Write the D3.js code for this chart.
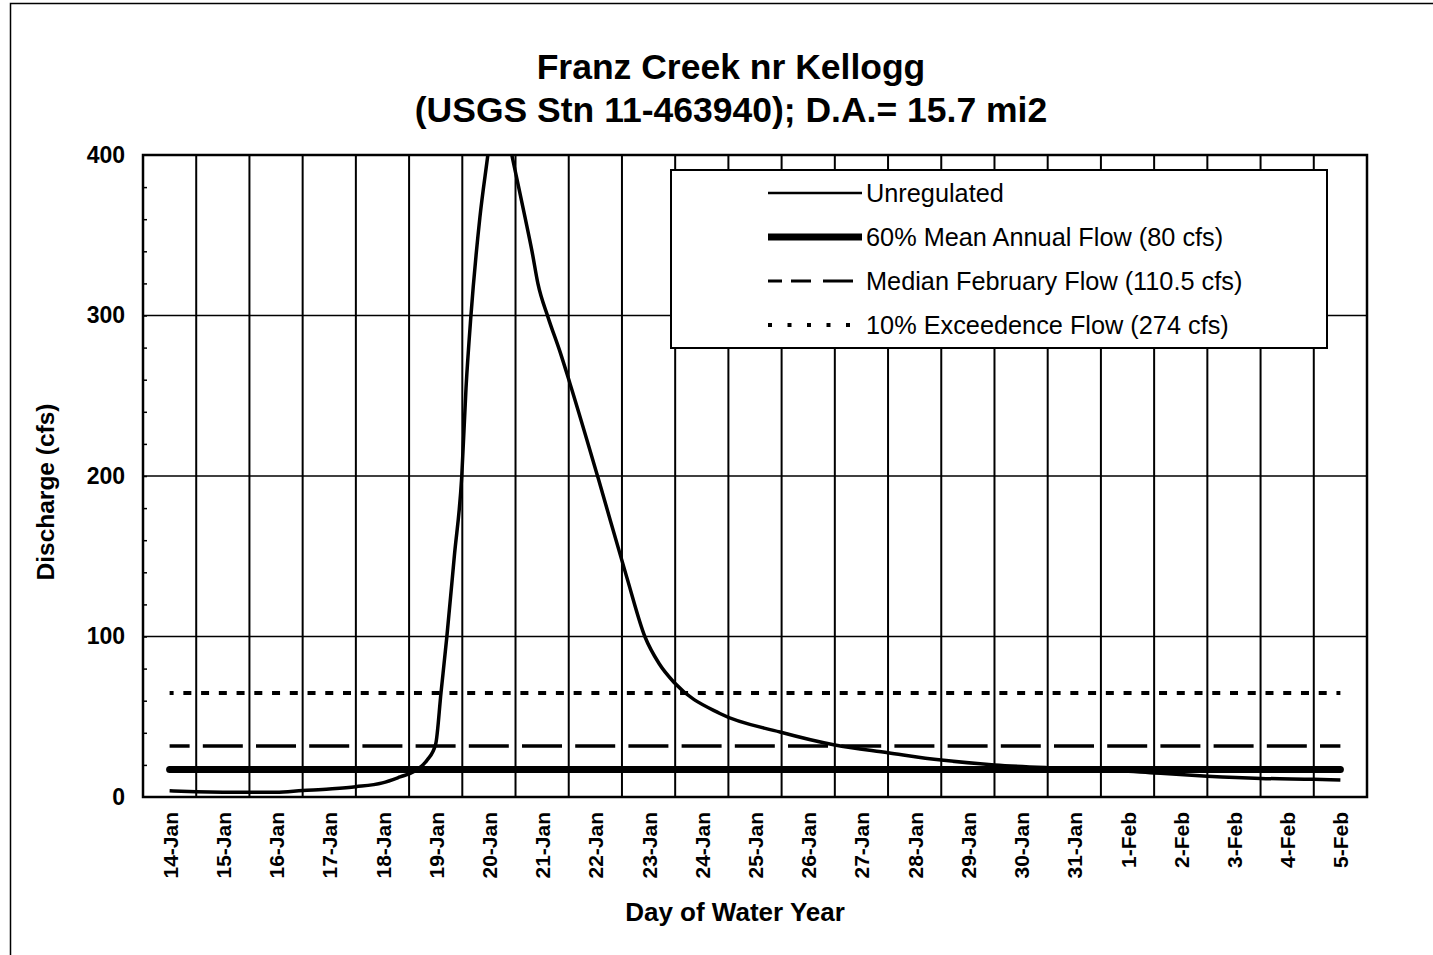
<!DOCTYPE html>
<html>
<head>
<meta charset="utf-8">
<script src="https://cdn.jsdelivr.net/npm/d3@7/dist/d3.min.js"></script>
<style>
body { margin: 0; background: #fff; }
text { font-family: "Liberation Sans", Arial, sans-serif; fill: #000; }
</style>
</head>
<body>
<script>
//category labels along the x axis
var dates = ["14-Jan", "15-Jan", "16-Jan", "17-Jan", "18-Jan", "19-Jan", "20-Jan", "21-Jan",
    "22-Jan", "23-Jan", "24-Jan", "25-Jan", "26-Jan", "27-Jan", "28-Jan", "29-Jan", "30-Jan",
    "31-Jan", "1-Feb", "2-Feb", "3-Feb", "4-Feb", "5-Feb"];

//unregulated hydrograph: day offset from 14-Jan and discharge (cfs)
var flowDay = [0, 0.5, 1, 1.5, 2, 2.5, 3, 3.5, 4, 4.33, 4.6, 4.84, 5.0, 5.1, 5.21, 5.35, 5.49,
    5.57, 5.66, 5.83, 5.98, 6.15, 6.43, 6.68, 6.81, 6.92, 7.11, 7.34, 7.52, 8.05, 8.59, 8.93,
    9.2, 9.49, 10.34, 11.47, 12.5, 13.5, 14.5, 15.5, 16.5, 17.5, 18.5, 19.5, 20.5, 21.5, 22];
var flowCfs = [3.9, 3.3, 3.0, 2.9, 2.9, 4.0, 5.0, 6.4, 8.8, 12.5, 16, 23, 33, 65, 100, 150, 200,
    255, 299, 361, 400, 445, 400, 361, 340, 320, 299, 277, 258, 199, 137, 100,
    83, 71, 52, 40.5, 32.4, 27.6, 23, 20, 18.3, 17.2, 15, 13, 11.6, 11, 10.6];

//flat reference flows, as drawn on the chart
var refNames = ["60% Mean Annual Flow (80 cfs)", "Median February Flow (110.5 cfs)", "10% Exceedence Flow (274 cfs)"];
var refCfs = [17.2, 31.8, 64.8];

//y axis ticks
var yTicks = [0, 100, 200, 300, 400];

window.onload = setChart();

function setChart(){

    var width = 1433,
        height = 955;

    //plot area edges
    var left = 143, right = 1367, top = 155, bottom = 797;

    var svg = d3.select("body")
        .append("svg")
        .attr("width", width)
        .attr("height", height);

    //page frame (left and top edge of the scanned figure)
    svg.append("path")
        .attr("d", "M10.5,955 V3.5 H1433")
        .attr("fill", "none")
        .attr("stroke", "#000")
        .attr("stroke-width", 1.5);

    var x = d3.scaleLinear()
        .domain([-0.5, dates.length - 0.5])
        .range([left, right]);

    var y = d3.scaleLinear()
        .domain([0, 400])
        .range([bottom, top]);

    //title
    var title = svg.append("text")
        .attr("text-anchor", "middle")
        .style("font-weight", "bold")
        .style("font-size", "35.5px");
    title.append("tspan").attr("x", 731).attr("y", 79).text("Franz Creek nr Kellogg");
    title.append("tspan").attr("x", 731).attr("y", 122).text("(USGS Stn 11-463940); D.A.= 15.7 mi2");

    //vertical grid lines between categories
    svg.selectAll(".vgrid")
        .data(d3.range(1, dates.length))
        .enter()
        .append("line")
        .attr("class", "vgrid")
        .attr("x1", function(d){ return x(d - 0.5); })
        .attr("x2", function(d){ return x(d - 0.5); })
        .attr("y1", top)
        .attr("y2", bottom)
        .attr("stroke", "#000")
        .attr("stroke-width", 2);

    //horizontal grid lines
    svg.selectAll(".hgrid")
        .data(yTicks.slice(1, -1))
        .enter()
        .append("line")
        .attr("class", "hgrid")
        .attr("x1", left)
        .attr("x2", right)
        .attr("y1", function(d){ return y(d); })
        .attr("y2", function(d){ return y(d); })
        .attr("stroke", "#000")
        .attr("stroke-width", 1.5);

    //reference line styles
    var refStyle = [
        {w: 7, dash: null, off: 0, cap: "round"},
        {w: 3.5, dash: "40,13.2", off: 20, cap: "butt"},
        {w: 4, dash: "8,9.74", off: 4, cap: "butt"}
    ];

    var flatLine = d3.line()
        .x(function(d){ return x(d[0]); })
        .y(function(d){ return y(d[1]); });

    refCfs.forEach(function(v, i){
        svg.append("path")
            .datum([[0, v], [dates.length - 1, v]])
            .attr("d", flatLine)
            .attr("fill", "none")
            .attr("stroke", "#000")
            .attr("stroke-width", refStyle[i].w)
            .attr("stroke-dasharray", refStyle[i].dash)
            .attr("stroke-dashoffset", refStyle[i].off)
            .attr("stroke-linecap", refStyle[i].cap);
    });

    //clip so the peak is cut at the top of the plot
    svg.append("clipPath")
        .attr("id", "plotClip")
        .append("rect")
        .attr("x", left)
        .attr("y", top)
        .attr("width", right - left)
        .attr("height", bottom - top);

    var flowLine = d3.line()
        .x(function(d, i){ return x(flowDay[i]); })
        .y(function(d){ return y(d); })
        .curve(d3.curveMonotoneX);

    svg.append("path")
        .datum(flowCfs)
        .attr("d", flowLine)
        .attr("clip-path", "url(#plotClip)")
        .attr("fill", "none")
        .attr("stroke", "#000")
        .attr("stroke-width", 3.5);

    //plot border
    svg.append("rect")
        .attr("x", left)
        .attr("y", top)
        .attr("width", right - left)
        .attr("height", bottom - top)
        .attr("fill", "none")
        .attr("stroke", "#000")
        .attr("stroke-width", 2.5);

    //y axis labels
    var yAxis = svg.append("g")
        .attr("transform", "translate(" + left + ",0)")
        .call(d3.axisLeft(y).tickValues(yTicks).tickSize(0).tickPadding(18));
    yAxis.select(".domain").remove();
    yAxis.selectAll("text")
        .style("font-family", "Liberation Sans, Arial, sans-serif")
        .style("font-size", "23px")
        .style("font-weight", "bold");

    //minor ticks on the inside of the y axis
    var yMinor = svg.append("g")
        .attr("transform", "translate(" + left + ",0)")
        .call(d3.axisRight(y).tickValues(d3.range(20, 400, 20)).tickSize(4).tickFormat(""));
    yMinor.select(".domain").remove();
    yMinor.selectAll("line").attr("stroke-width", 1.5);

    //x axis labels, rotated
    var xAxis = svg.append("g")
        .attr("transform", "translate(0," + bottom + ")")
        .call(d3.axisBottom(x)
            .tickValues(d3.range(dates.length))
            .tickFormat(function(i){ return dates[i]; })
            .tickSize(0));
    xAxis.select(".domain").remove();
    xAxis.selectAll("text")
        .attr("transform", "rotate(-90)")
        .attr("x", -15)
        .attr("y", 0)
        .attr("dy", "0.36em")
        .style("text-anchor", "end")
        .style("font-family", "Liberation Sans, Arial, sans-serif")
        .style("font-size", "21px")
        .style("font-weight", "bold");

    //axis titles
    svg.append("text")
        .attr("x", 735)
        .attr("y", 921)
        .attr("text-anchor", "middle")
        .style("font-weight", "bold")
        .style("font-size", "26px")
        .text("Day of Water Year");

    svg.append("text")
        .attr("transform", "translate(54,492) rotate(-90)")
        .attr("text-anchor", "middle")
        .style("font-weight", "bold")
        .style("font-size", "24.5px")
        .text("Discharge (cfs)");

    //legend
    var legend = svg.append("g");
    legend.append("rect")
        .attr("x", 671)
        .attr("y", 170)
        .attr("width", 656)
        .attr("height", 178)
        .attr("fill", "#fff")
        .attr("stroke", "#000")
        .attr("stroke-width", 2);

    var legendNames = ["Unregulated"].concat(refNames);
    var legendStyle = [
        {w: 2.5, dash: null},
        {w: 7, dash: null},
        {w: 3, dash: "14,9,20,12,30"},
        {w: 4, dash: "4,15.5"}
    ];

    var rows = legend.selectAll(".legend-row")
        .data(legendNames)
        .enter()
        .append("g")
        .attr("class", "legend-row")
        .attr("transform", function(d, i){ return "translate(0," + (193 + i * 44) + ")"; });

    rows.append("line")
        .attr("x1", 768)
        .attr("x2", 862)
        .attr("stroke", "#000")
        .attr("stroke-width", function(d, i){ return legendStyle[i].w; })
        .attr("stroke-dasharray", function(d, i){ return legendStyle[i].dash; });

    rows.append("text")
        .attr("x", 866)
        .attr("dy", "0.35em")
        .style("font-size", "25.3px")
        .text(function(d){ return d; });
}
</script>
</body>
</html>
